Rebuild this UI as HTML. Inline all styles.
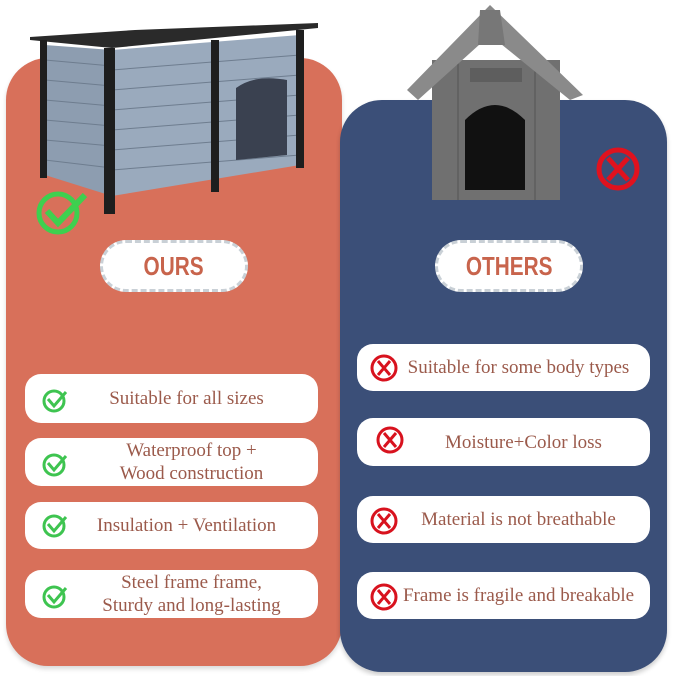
<!DOCTYPE html>
<html><head><meta charset="utf-8"><style>
*{margin:0;padding:0;box-sizing:border-box}
html,body{width:679px;height:676px;overflow:hidden}
body{background:#fff;position:relative;font-family:"Liberation Serif",serif}
.p{position:absolute;border-radius:42px}
.box{position:absolute;background:#fff;border-radius:16px;color:#9b5a4b;font-size:19px;line-height:23px;text-align:center;display:flex;align-items:center;justify-content:center}
.pill{position:absolute;background:#fff;border:3px dashed #c9d0d6;border-radius:26px;color:#c8644c;font-family:"Liberation Sans",sans-serif;font-weight:bold;font-size:26px;display:flex;align-items:center;justify-content:center}
.pill span{display:inline-block;transform:scaleX(0.8)}
.ic{position:absolute;left:0;top:0}
</style></head><body>
<div class="p" style="left:6px;top:58px;width:336px;height:608px;background:#d8705a;box-shadow:0 3px 5px rgba(0,0,0,.15)"></div>
<div class="p" style="left:340px;top:100px;width:327px;height:572px;background:#3b4f78;box-shadow:0 3px 5px rgba(0,0,0,.2)"></div>

<svg class="ic" width="679" height="676">
<polygon points="45,45 112,50 112,196 45,175" fill="#8d9db0"/>
<polygon points="112,50 300,35 300,165 112,196" fill="#9aaabd"/>
<g stroke="#6e7d8f" stroke-width="1">
<line x1="45" y1="60" x2="112" y2="66"/><line x1="45" y1="80" x2="112" y2="86"/><line x1="45" y1="100" x2="112" y2="106"/><line x1="45" y1="120" x2="112" y2="126"/><line x1="45" y1="140" x2="112" y2="146"/><line x1="45" y1="160" x2="112" y2="168"/>
<line x1="112" y1="70" x2="300" y2="55"/><line x1="112" y1="90" x2="300" y2="75"/><line x1="112" y1="110" x2="300" y2="95"/><line x1="112" y1="130" x2="300" y2="115"/><line x1="112" y1="150" x2="300" y2="135"/><line x1="112" y1="170" x2="300" y2="155"/>
</g>
<path d="M236,160 V88 Q255,74 287,80 V155 Z" fill="#3a4150"/>
<polygon points="30,37 135,30 318,23 318,28 112,48 30,40" fill="#2a2a2a"/>
<rect x="40" y="40" width="7" height="138" fill="#1e1e1e"/>
<rect x="104" y="48" width="11" height="166" fill="#1e1e1e"/>
<rect x="211" y="40" width="8" height="152" fill="#1e1e1e"/>
<rect x="296" y="30" width="8" height="138" fill="#1e1e1e"/>
<circle cx="58" cy="213" r="19" fill="none" stroke="#3ed04f" stroke-width="5"/>
<path d="M47,211 L58,223 L85,195" fill="none" stroke="#3ed04f" stroke-width="6"/>

<rect x="432" y="60" width="128" height="140" fill="#707070"/>
<g stroke="#555"><line x1="458" y1="60" x2="458" y2="200"/><line x1="535" y1="60" x2="535" y2="200"/></g>
<rect x="470" y="68" width="52" height="14" fill="#5e5e5e"/>
<path d="M465,190 V120 Q495,90 525,120 V190 Z" fill="#111"/>
<polygon points="407,90 490,5 583,95 570,100 490,35 418,100" fill="#8a8a8a"/>
<polygon points="480,10 500,10 505,45 478,45" fill="#777"/>
<circle cx="618" cy="169" r="19" fill="none" stroke="#e0121e" stroke-width="5"/>
<path d="M608,158 L628,180 M628,158 L608,180" stroke="#e0121e" stroke-width="5"/>
</svg>

<div class="pill" style="left:100px;top:240px;width:148px;height:52px"><span>OURS</span></div>
<div class="pill" style="left:435px;top:240px;width:148px;height:52px"><span>OTHERS</span></div>

<div class="box" style="left:25px;top:374px;width:293px;height:49px;padding-left:30px">Suitable for all sizes</div>
<div class="box" style="left:25px;top:438px;width:293px;height:48px;padding-left:40px">Waterproof top +<br>Wood construction</div>
<div class="box" style="left:25px;top:502px;width:293px;height:47px;padding-left:30px">Insulation + Ventilation</div>
<div class="box" style="left:25px;top:570px;width:293px;height:48px;padding-left:40px">Steel frame frame,<br>Sturdy and long-lasting</div>

<div class="box" style="left:357px;top:344px;width:293px;height:47px;padding-left:30px">Suitable for some body types</div>
<div class="box" style="left:357px;top:418px;width:293px;height:48px;padding-left:40px">Moisture+Color loss</div>
<div class="box" style="left:357px;top:496px;width:293px;height:47px;padding-left:30px">Material is not breathable</div>
<div class="box" style="left:357px;top:572px;width:293px;height:47px;padding-left:30px">Frame is fragile and breakable</div>

<svg class="ic" width="679" height="676">
<g fill="none" stroke="#3ec450" stroke-width="3">
<circle cx="54" cy="401" r="10"/><path d="M48,399 L54,406 L66,392"/>
<circle cx="54" cy="465" r="10"/><path d="M48,463 L54,470 L66,456"/>
<circle cx="54" cy="526" r="10"/><path d="M48,524 L54,531 L66,517"/>
<circle cx="54" cy="597" r="10"/><path d="M48,595 L54,602 L66,588"/>
</g>
<g fill="none" stroke="#d8121e" stroke-width="3">
<circle cx="384" cy="368" r="12"/><path d="M378,361 L390,375 M390,361 L378,375"/>
<circle cx="390" cy="440" r="12"/><path d="M384,433 L396,447 M396,433 L384,447"/>
<circle cx="384" cy="521" r="12"/><path d="M378,514 L390,528 M390,514 L378,528"/>
<circle cx="384" cy="597" r="12"/><path d="M378,590 L390,604 M390,590 L378,604"/>
</g>
</svg>
</body></html>
